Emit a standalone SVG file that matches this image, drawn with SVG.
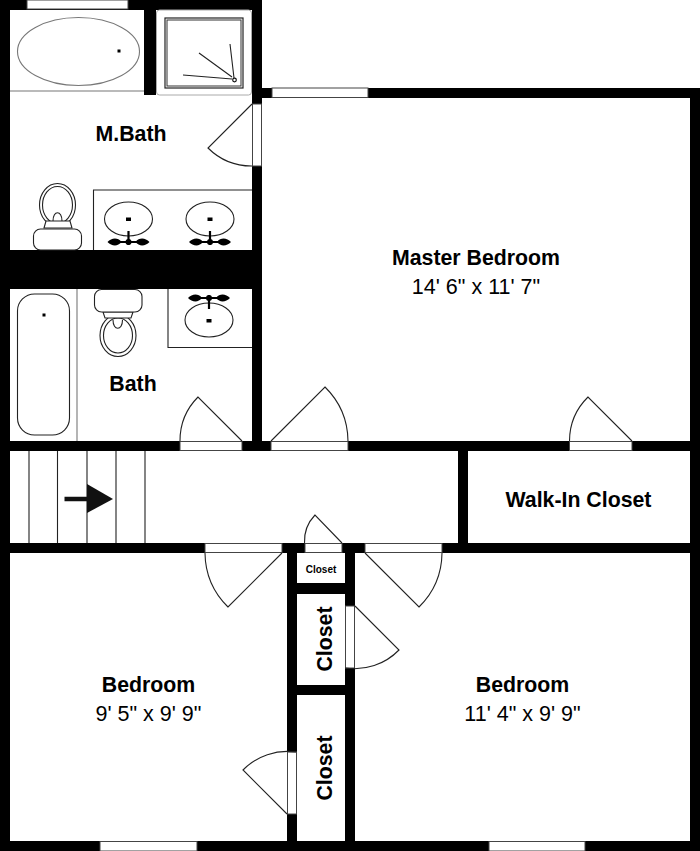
<svg xmlns="http://www.w3.org/2000/svg" width="700" height="851" viewBox="0 0 700 851">
<style>
.w{fill:#000}
.g{fill:#fff;stroke:#444;stroke-width:1}
.l{fill:none;stroke:#222;stroke-width:1.1}
.f{fill:#fff;stroke:#222;stroke-width:1.1}
.p{fill:none;stroke:#777;stroke-width:1.1}
.b{font-family:"Liberation Sans",Arial,sans-serif;font-weight:700;fill:#000;text-anchor:middle;font-size:21.3px}
.r{font-family:"Liberation Sans",Arial,sans-serif;fill:#000;text-anchor:middle;font-size:21.5px}
</style>
<defs>
<g id="faucet">
<path d="M0 0V14M-12 11H12" stroke="#000" stroke-width="2.2" fill="none"/>
<circle cx="0" cy="11" r="3" fill="#000"/>
<path d="M-21 11C-17 7-11 6-7 11C-11 16-17 15-21 11Z M21 11C17 7 11 6 7 11C11 16 17 15 21 11Z" fill="#000"/>
</g>
</defs>
<rect width="700" height="851" fill="#fff"/>
<g id="walls">
<rect class="w" x="0" y="0" width="10" height="851"/>
<rect class="w" x="0" y="0" width="262" height="10"/>
<rect class="w" x="252" y="0" width="10" height="451"/>
<rect class="w" x="252" y="88" width="448" height="10"/>
<rect class="w" x="690" y="88" width="10" height="763"/>
<rect class="w" x="0" y="841" width="700" height="10"/>
<rect class="w" x="0" y="250" width="262" height="39"/>
<rect class="w" x="0" y="441" width="700" height="10"/>
<rect class="w" x="0" y="543" width="700" height="10"/>
<rect class="w" x="458" y="451" width="10" height="92"/>
<rect class="w" x="287" y="543" width="10" height="298"/>
<rect class="w" x="345" y="543" width="10" height="298"/>
<rect class="w" x="297" y="583" width="48" height="11"/>
<rect class="w" x="297" y="685" width="48" height="10"/>
<rect class="w" x="144" y="10" width="12" height="85"/>
</g>
<g id="windows">
<rect class="g" x="27" y="0" width="101" height="9"/>
<rect class="g" x="272" y="88" width="96" height="9.500"/>
<rect class="g" x="100" y="841.500" width="97" height="9.500"/>
<rect class="g" x="489" y="841.500" width="96" height="9.500"/>
</g>
<g id="door-mbath">
<rect class="g" x="252.500" y="104" width="9" height="62"/>
<path class="l" d="M252 104L208 148A62 62 0 0 0 252 166"/>
</g>
<g id="door-bath">
<rect class="g" x="180" y="441.500" width="62" height="9"/>
<path class="l" d="M242 441L198 397A62 62 0 0 0 180 441"/>
</g>
<g id="door-master">
<rect class="g" x="271" y="441.500" width="77" height="9"/>
<path class="l" d="M271 441L325 387A77 77 0 0 1 348 441"/>
</g>
<g id="door-walkin">
<rect class="g" x="569.500" y="441.500" width="62.500" height="9"/>
<path class="l" d="M632 441L588 397A62 62 0 0 0 569.500 441"/>
</g>
<g id="door-bedroom-left">
<rect class="g" x="205" y="543.500" width="77" height="9"/>
<path class="l" d="M282 553L228 607A77 77 0 0 1 205 553"/>
</g>
<g id="door-closet-top">
<rect class="g" x="305" y="543.500" width="37" height="9"/>
<path class="l" d="M342 543L315 515A38 38 0 0 0 304.500 543"/>
</g>
<g id="door-bedroom-right">
<rect class="g" x="365" y="543.500" width="77" height="9"/>
<path class="l" d="M365 553L419 607A77 77 0 0 0 442 553"/>
</g>
<g id="door-closet-mid">
<rect class="g" x="345.500" y="606" width="9" height="62"/>
<path class="l" d="M355 606L399 650A62 62 0 0 1 345 668"/>
</g>
<g id="door-closet-low">
<rect class="g" x="287.500" y="752" width="9" height="62"/>
<path class="l" d="M287 814L243 770A62 62 0 0 1 296 752"/>
</g>
<g id="master-tub">
<path class="p" d="M10 91H144"/>
<ellipse class="p" cx="78.500" cy="51.500" rx="61" ry="34"/>
<rect class="w" x="117.500" y="49.500" width="3" height="3"/>
</g>
<g id="shower">
<rect x="156.500" y="10" width="95" height="85" rx="3" fill="#fff" stroke="#aaa" stroke-width="1"/>
<rect x="165" y="18" width="78" height="70" fill="none" stroke="#222" stroke-width="1.2"/>
<rect x="167" y="20" width="74" height="66" fill="none" stroke="#333" stroke-width="1"/>
<path class="l" d="M234 78L230 44M232 77L199 53M232 79L183 75"/>
<circle cx="234.500" cy="80" r="1.800" fill="#fff" stroke="#111" stroke-width="1.200"/>
</g>
<g id="master-vanity">
<path class="l" d="M252 190H93.500V250"/>
<ellipse class="l" cx="128.500" cy="219" rx="24" ry="17"/>
<ellipse class="l" cx="210" cy="219" rx="24" ry="17"/>
<rect class="w" x="126" y="217.500" width="5" height="3.500"/>
<rect class="w" x="207.500" y="217.500" width="5" height="3.500"/>
<use href="#faucet" transform="translate(128.500,231)"/>
<use href="#faucet" transform="translate(210,231)"/>
</g>
<g id="master-toilet">
<ellipse class="f" cx="57.500" cy="205" rx="18" ry="21.500"/>
<ellipse class="l" cx="57.500" cy="205" rx="15" ry="18.500"/>
<path class="l" d="M53 221C53 210 62 210 62 221"/>
<path class="f" d="M44 228L46 221H70L72 228Z"/>
<rect class="f" x="33.500" y="229" width="48" height="21" rx="7"/>
</g>
<g id="bath-tub">
<path class="p" d="M77 289V441"/>
<rect class="l" x="17.500" y="294" width="52" height="141" rx="17"/>
<rect class="w" x="42.500" y="313.500" width="3" height="3"/>
</g>
<g id="bath-toilet">
<ellipse class="f" cx="118" cy="335.500" rx="18" ry="21"/>
<ellipse class="l" cx="118" cy="335.500" rx="14.500" ry="17.500"/>
<path class="l" d="M113 320C113 331 122.500 331 122.500 320"/>
<path class="f" d="M103 312L105 318H131L133 312Z"/>
<rect class="f" x="94.500" y="289.500" width="47.500" height="22.500" rx="7"/>
</g>
<g id="bath-vanity">
<path class="l" d="M168 289V347.500H252"/>
<ellipse class="l" cx="209" cy="320" rx="24" ry="17"/>
<rect class="w" x="206.500" y="319" width="5" height="3.500"/>
<use href="#faucet" transform="translate(209,309) scale(1,-1)"/>
</g>
<g id="stairs">
<path class="l" d="M29 451V543M57.500 451V543M87 451V543M116 451V543M145 451V543"/>
<path d="M64.500 499H88" stroke="#111" stroke-width="4.500" fill="none"/>
<path d="M87 484L113 499L87 513Z" fill="#111"/>
</g>
<g id="labels">
<text class="b" x="131" y="141">M.Bath</text>
<text class="b" x="133" y="391">Bath</text>
<text class="b" x="476" y="265">Master Bedroom</text>
<text class="r" x="476" y="294">14' 6" x 11' 7"</text>
<text class="b" x="578.500" y="507">Walk-In Closet</text>
<text class="b" x="148.500" y="692">Bedroom</text>
<text class="r" x="148.500" y="721">9' 5" x 9' 9"</text>
<text class="b" x="522.500" y="692">Bedroom</text>
<text class="r" x="522.500" y="721">11' 4" x 9' 9"</text>
<text class="b" x="321" y="573" style="font-size:10px">Closet</text>
<text class="b" transform="translate(332,639) rotate(-90)">Closet</text>
<text class="b" transform="translate(332,768) rotate(-90)">Closet</text>
</g>
</svg>
